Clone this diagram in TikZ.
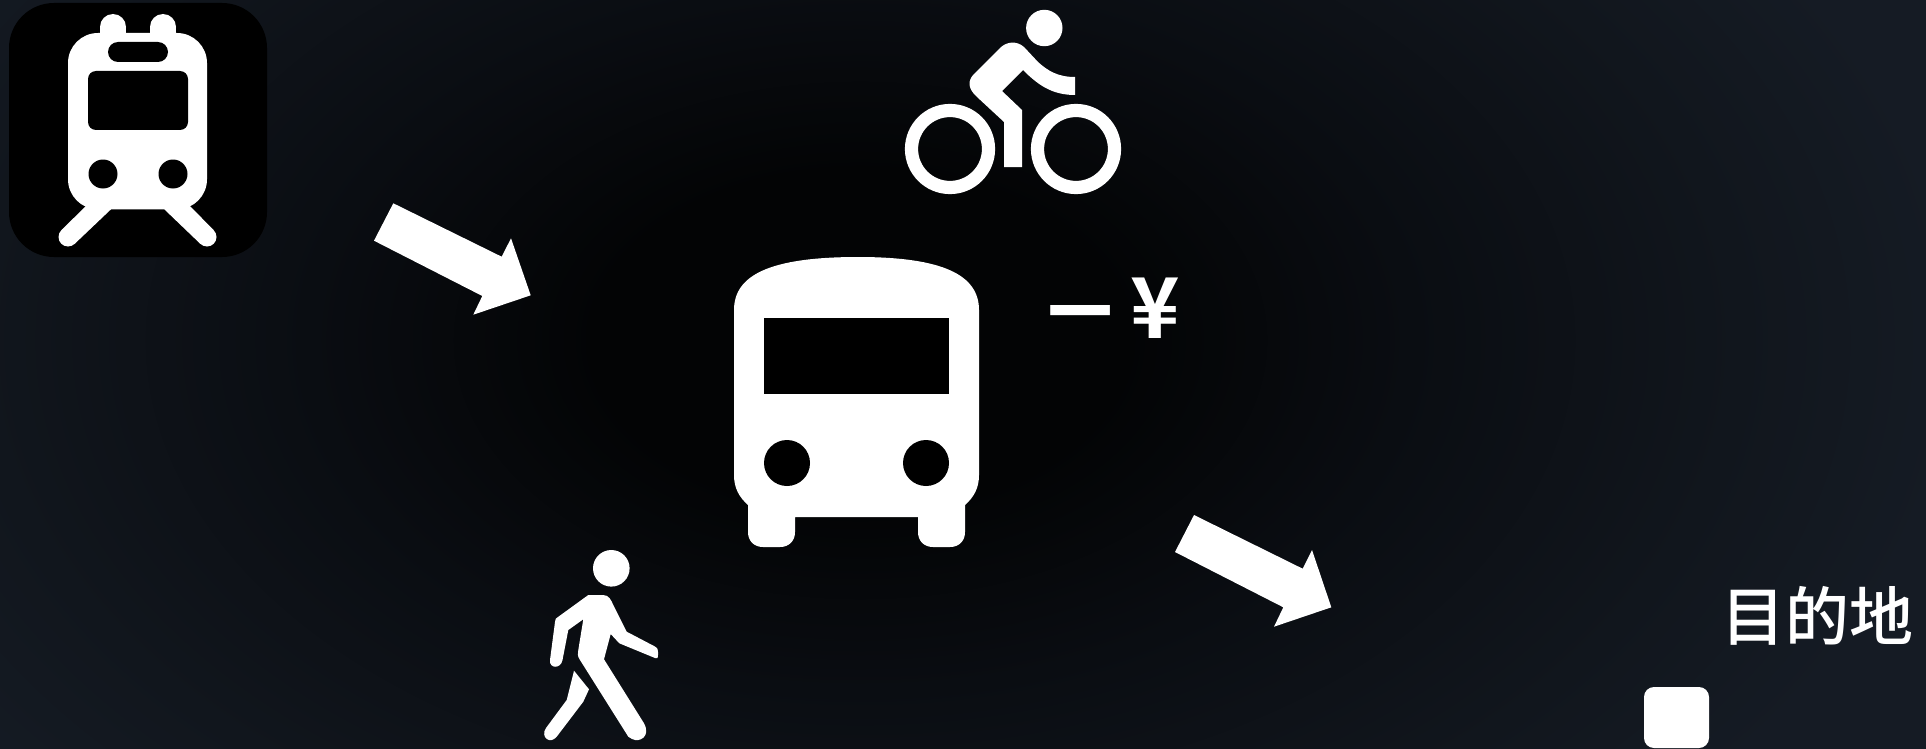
\documentclass[tikz,border=0pt]{standalone}
\usepackage{fontspec}
\newfontfamily\cjk{Noto Sans CJK SC Medium}
\newfontfamily\cjkb{Noto Sans CJK SC Black}
\newfontfamily\cjkc{Noto Sans CJK SC Bold}
\definecolor{bgc}{HTML}{030405}
\definecolor{bgm}{HTML}{0A0D12}
\definecolor{bgo}{HTML}{11161D}
\definecolor{bge}{HTML}{151B24}
\pgfdeclareradialshading{bgshade}{\pgfpoint{0bp}{0bp}}{
  color(0bp)=(bgc); color(6bp)=(bgc); color(12.5bp)=(bgm); color(20bp)=(bgo); color(25bp)=(bge); color(50bp)=(bge)}
\tikzset{
  icon/.style={fill=white,draw=none},
  hole/.style={fill=black,draw=none},
  blockarrow/.style={fill=white,draw=none},
  label/.style={text=white,inner sep=0pt,anchor=center}
}
\begin{document}
\begin{tikzpicture}[x=0.5pt,y=-0.5pt]
\useasboundingbox (0,0) rectangle (1926,749);
\clip (0,0) rectangle (1926,749);
\shade[shading=bgshade] (-240,-360) rectangle (1960,1040);
% train
\fill[black,rounded corners=22.5pt] (9,3) rectangle (267,257);
\fill[icon] (113,27) circle[radius=13];
\fill[icon] (163,27) circle[radius=13];
\fill[icon] (100,27) rectangle (126,40);
\fill[icon] (150,27) rectangle (176,40);
\fill[icon,rounded corners=15pt] (68,33) -- (207,33) -- (207,209.3) -- (68,209.3) -- cycle;
\fill[icon] (86,206) -- (111,206) -- (111,209.3) -- (74.5,244) -- (61.5,230) -- cycle;
\fill[icon] (68,237) circle[radius=9.5];
\fill[icon] (190,206) -- (164.3,206) -- (164.3,209.3) -- (200.5,244) -- (213.5,230) -- cycle;
\fill[icon] (207,237) circle[radius=9.5];
\fill[hole,rounded corners=5pt] (108,42) rectangle (168,62);
\fill[hole,rounded corners=4pt] (88,71) rectangle (188,130);
\fill[hole] (103,174) circle[radius=14.5];
\fill[hole] (173,174) circle[radius=14.5];
% bike
\draw[white,line width=6.6pt] (950,149) circle[radius=38.5];
\draw[white,line width=6.6pt] (1076,149) circle[radius=38.5];
\fill[icon] (1044.3,28) circle[radius=18.2];
\fill[icon] (1000,48) .. controls (1006,42) and (1016,40) .. (1024,47)
 -- (1038,62) .. controls (1048,71) and (1058,77) .. (1075,77)
 -- (1075,95) .. controls (1052,95) and (1038,85) .. (1023,70)
 -- (1002,91) -- (1022,110) -- (1022,167) -- (1004,167) -- (1004,122)
 -- (977,97) .. controls (967,88) and (968,80) .. (974,74) -- cycle;
% walker
\fill[icon] (611.3,568.3) circle[radius=18.3];
\fill[icon] (588.3,595) -- (603,595) .. controls (609,595) and (611,600) .. (613.3,605) -- (626.7,631.7)
 -- (654,646) .. controls (658,648) and (658,650) .. (658,652) -- (658,655) .. controls (658,658) and (657,659) .. (655,658)
 -- (619.3,643.3) -- (610.7,634) -- (604,659.3)
 -- (644,723.3) .. controls (651,736) and (640,743) .. (632,739) -- (628.3,736.7) -- (580,660) .. controls (577,656) and (578,653) .. (578.3,650)
 -- (583.3,619.3) -- (568.3,630) -- (562.5,660) .. controls (561,669) and (549,669) .. (550,660)
 -- (555,622) .. controls (555,619) and (556,618) .. (558,617) -- cycle;
\fill[icon] (574,670.7) -- (589,689.3) -- (583.3,701.7) -- (556.7,736.7) .. controls (550,745) and (540,737) .. (546,728) -- (566.7,700) -- cycle;
% bus
\fill[icon] (734,310) .. controls (734,275) and (770,257) .. (858,257)
 .. controls (943,257) and (979,275) .. (979,310) -- (979,475) .. controls (979,488) and (974,497) .. (965,505)
 -- (965,532) .. controls (965,541) and (959,547) .. (950,547) -- (933,547) .. controls (924,547) and (918,541) .. (918,532)
 -- (918,517) -- (795,517) -- (795,532) .. controls (795,541) and (789,547) .. (780,547)
 -- (763,547) .. controls (754,547) and (748,541) .. (748,532) -- (748,505) .. controls (739,497) and (734,488) .. (734,475) -- cycle;
\fill[hole] (764,318) rectangle (949,394);
\fill[hole] (787,463) circle[radius=23];
\fill[hole] (926,463) circle[radius=23];
% arrows
\fill[blockarrow] (393.3,203.3) -- (501.7,256.7) -- (511,238.3) -- (530.7,295.3) -- (473.3,314.7) -- (482.3,296) -- (374,240.7) -- cycle;
\fill[blockarrow] (1194,515) -- (1302.7,568.7) -- (1312,550) -- (1331.3,607.3) -- (1274,626.7) -- (1283.3,607.3) -- (1175,552) -- cycle;
% square
\fill[icon,rounded corners=5pt] (1644,687) rectangle (1709,748);
% text
\node[label,font=\cjk\fontsize{32}{32}\selectfont] (dest) at (1817,616) {目的地};
\node[label,font=\cjkb\fontsize{32}{32}\selectfont] (one) at (1080,320) {一};
\node[label,font=\cjkc\fontsize{42}{42}\selectfont] (yen) at (1155,308) {¥};
\end{tikzpicture}
\end{document}
